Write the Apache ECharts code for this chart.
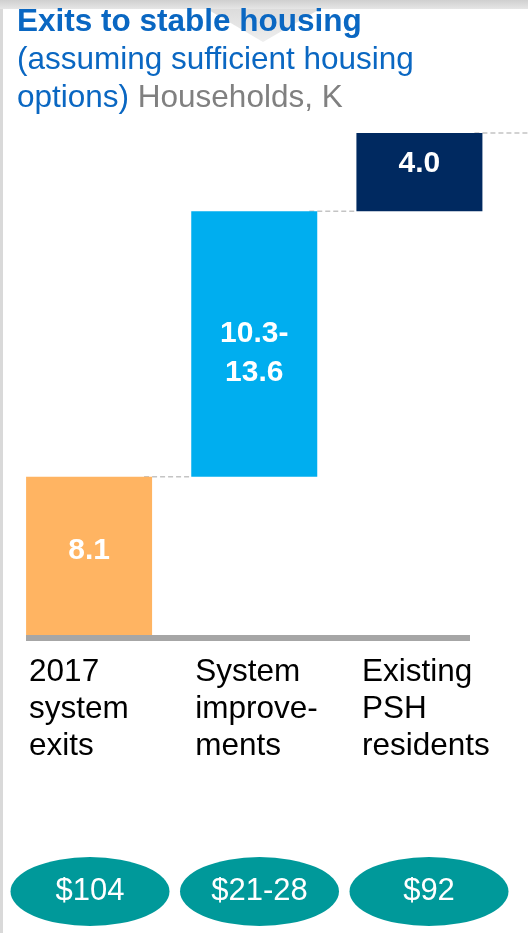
<!DOCTYPE html>
<html>
<head>
<meta charset="utf-8">
<script src="https://cdn.jsdelivr.net/npm/echarts@6/dist/echarts.min.js"></script>
<style>
  html, body { margin: 0; padding: 0; background: #fff; }
  #chart { width: 528px; height: 933px; }
</style>
</head>
<body>
<div id="chart"></div>
<script>
// waterfall: households (K) exiting to stable housing
const categories = ['2017\nsystem\nexits', 'System\nimprove-\nments', 'Existing\nPSH\nresidents'];
const values = [8.1, 13.6, 4.0];
const valueLabels = ['8.1', '10.3-\n13.6', '4.0'];
const costLabels = ['$104', '$21-28', '$92'];
const barColors = ['#FFB462', '#00AEEF', '#002960'];

const FONT = '"Liberation Sans", Arial, sans-serif';
const BAR_W = 126;

// running totals for the waterfall
const bases = [];
const tops = [];
let run = 0;
values.forEach(v => { bases.push(run); run += v; tops.push(run); });

// small per-bar tweaks so the text sits where it does in the slide
const labelShift = [-5, 9, -8];
const catBoxW = [120, 118, 115];

const chart = echarts.init(document.getElementById('chart'));

const rich = {};
catBoxW.forEach((w, i) => {
  rich['c' + i] = { width: w, align: 'left', fontSize: 31.5, lineHeight: 37, color: '#000', fontFamily: FONT };
});

chart.setOption({
  animation: false,
  backgroundColor: '#fff',
  title: {
    left: 17, top: 3, padding: 0,
    text: '{b|Exits to stable housing}\n{n|(assuming sufficient housing}\n{n|options)}{g| Households, K}',
    textStyle: {
      fontWeight: 'normal',
      rich: {
        b: { fontSize: 31.5, fontWeight: 'bold', color: '#0A67C2', lineHeight: 38, fontFamily: FONT },
        n: { fontSize: 31.5, fontWeight: 'normal', color: '#0A67C2', lineHeight: 38, fontFamily: FONT },
        g: { fontSize: 31.5, fontWeight: 'normal', color: '#808080', lineHeight: 38, fontFamily: FONT }
      }
    },
    z: 10
  },
  graphic: [
    // slide header strip and notch
    { type: 'rect', shape: { x: 0, y: 0, width: 528, height: 9 }, z: 0,
      style: { fill: new echarts.graphic.LinearGradient(0, 0, 0, 1, [{ offset: 0, color: '#cfcfcf' }, { offset: 1, color: '#e6e6e6' }]) } },
    { type: 'polygon', shape: { points: [[207, 9], [320, 9], [263, 42]] }, z: 0,
      style: { fill: new echarts.graphic.LinearGradient(0, 0, 0, 1, [{ offset: 0, color: '#dcdcdc' }, { offset: 1, color: '#eeeeee' }]) } },
    { type: 'rect', shape: { x: 0, y: 9, width: 3, height: 924 }, z: 0, style: { fill: '#d9d9d9' } },
    // baseline
    { type: 'rect', shape: { x: 26, y: 635, width: 444, height: 6 }, z: 5, style: { fill: '#A6A6A6' } }
  ],
  grid: [
    { left: 6.5, right: 26, top: 133, bottom: 298 },
    { left: 5.25, right: 14.25, top: 857, height: 69 }
  ],
  xAxis: [
    {
      type: 'category', gridIndex: 0, data: categories,
      axisLine: { show: false }, axisTick: { show: false },
      axisLabel: {
        interval: 0, margin: 19, align: 'center', verticalAlign: 'top',
        formatter: (val, idx) => val.split('\n').map(s => '{c' + idx + '|' + s + '}').join('\n'),
        rich: rich
      }
    },
    {
      type: 'category', gridIndex: 1, data: costLabels,
      axisLine: { show: false }, axisTick: { show: false }, axisLabel: { show: false }
    }
  ],
  yAxis: [
    { type: 'value', gridIndex: 0, min: 0, max: 25.7, show: false, splitLine: { show: false } },
    { type: 'value', gridIndex: 1, min: -1, max: 1, show: false, splitLine: { show: false } }
  ],
  series: [
    {
      type: 'bar', stack: 'w', barWidth: BAR_W, silent: true,
      itemStyle: { color: 'transparent' },
      data: bases
    },
    {
      type: 'bar', stack: 'w', barWidth: BAR_W,
      data: values.map((v, i) => ({
        value: v,
        itemStyle: { color: barColors[i] },
        label: { offset: [0, labelShift[i]] }
      })),
      label: {
        show: true, position: 'inside', color: '#fff',
        fontSize: 30, fontWeight: 'bold', lineHeight: 39, fontFamily: FONT,
        formatter: p => valueLabels[p.dataIndex]
      },
      z: 3
    },
    {
      // dashed connectors between bar tops
      type: 'custom', xAxisIndex: 0, yAxisIndex: 0, z: 2,
      data: tops.map((t, i) => [i, t]),
      renderItem: (params, api) => {
        const i = api.value(0);
        const pt = api.coord([i, api.value(1)]);
        const x1 = pt[0] + BAR_W / 2 - 8;
        const x2 = i < tops.length - 1 ? api.coord([i + 1, api.value(1)])[0] - BAR_W / 2 : api.getWidth();
        return {
          type: 'line',
          shape: { x1: x1, y1: pt[1], x2: x2, y2: pt[1] },
          style: { stroke: '#C4C4C4', lineWidth: 1.5, lineDash: [5, 3] }
        };
      }
    },
    {
      // cost ovals
      type: 'scatter', xAxisIndex: 1, yAxisIndex: 1,
      symbol: 'circle', symbolSize: [159, 69],
      itemStyle: { color: '#00999A', opacity: 1 },
      data: costLabels.map(() => 0),
      label: {
        show: true, position: 'inside', color: '#fff', fontSize: 31, fontFamily: FONT,
        formatter: p => costLabels[p.dataIndex]
      }
    }
  ]
});
</script>
</body>
</html>
